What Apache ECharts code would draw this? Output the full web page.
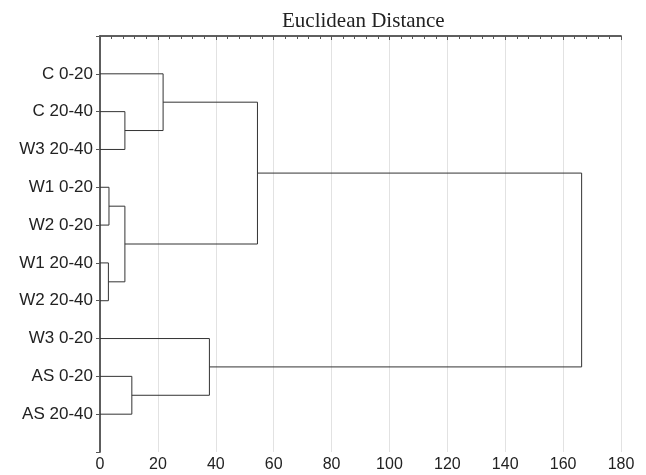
<!DOCTYPE html>
<html>
<head>
    <meta charset="UTF-8">
    <title>Euclidean Distance</title>
    <script type="text/javascript" src="https://cdn.jsdelivr.net/npm/echarts@6/dist/echarts.min.js"></script>
</head>
<body style="margin:0">
    <div id="main" style="width:646px;height:475px;"></div>
    <script type="text/javascript">
        // leaves, top to bottom
        var leaves = ['C 0-20', 'C 20-40', 'W3 20-40', 'W1 0-20', 'W2 0-20',
                      'W1 20-40', 'W2 20-40', 'W3 0-20', 'AS 0-20', 'AS 20-40'];
        // merges: [child a, child b, distance]; new clusters get ids 10, 11, ...
        var merges = [
            [1, 2, 8.6],
            [0, 10, 21.8],
            [3, 4, 3.1],
            [5, 6, 2.9],
            [12, 13, 8.6],
            [11, 14, 54.4],
            [8, 9, 11],
            [7, 16, 37.8],
            [15, 17, 166.4]
        ];
        var xTicks = [0, 20, 40, 60, 80, 100, 120, 140, 160, 180];

        // node position: leaf i sits at y = i + 1, height 0
        var nodeY = leaves.map(function (d, i) { return i + 1; });
        var nodeH = leaves.map(function () { return 0; });
        var links = [];
        merges.forEach(function (m) {
            var a = m[0], b = m[1], h = m[2];
            links.push([nodeH[a], nodeY[a]], [h, nodeY[a]], [h, nodeY[b]], [nodeH[b], nodeY[b]], '-');
            nodeY.push((nodeY[a] + nodeY[b]) / 2);
            nodeH.push(h);
        });

        var axisColor = '#555';
        var myChart = echarts.init(document.getElementById('main'));
        var option = {
            animation: false,
            title: {
                text: 'Euclidean Distance',
                left: 277,
                top: 6,
                textStyle: {fontFamily: 'Liberation Serif', fontSize: 21, fontWeight: 'normal', color: '#222'}
            },
            grid: {left: 100, right: 25, top: 36, bottom: 23},
            xAxis: [{
                type: 'value', position: 'bottom', min: 0, max: 180, interval: 20,
                axisLine: {lineStyle: {color: axisColor, width: 1.5}},
                axisTick: {show: true, length: 3, lineStyle: {color: axisColor}},
                minorTick: {show: true, splitNumber: 5, length: 2, lineStyle: {color: axisColor}},
                axisLabel: {
                    color: '#222', fontSize: 16, fontFamily: 'Liberation Sans', margin: 5,
                    formatter: function (v) { return xTicks.indexOf(v) >= 0 ? String(v) : ''; }
                },
                splitLine: {show: true, lineStyle: {color: '#e2e2e2'}}
            }, {
                type: 'value', position: 'top', min: 0, max: 180, interval: 20,
                axisLine: {lineStyle: {color: axisColor, width: 1.5}},
                axisTick: {show: true, inside: true, length: 4, lineStyle: {color: axisColor}},
                minorTick: {show: true, splitNumber: 5, length: 3, lineStyle: {color: axisColor}},
                axisLabel: {show: false},
                splitLine: {show: false}
            }],
            yAxis: [{
                type: 'value', position: 'left', min: 0, max: 11, interval: 1, inverse: true,
                axisLine: {show: true, lineStyle: {color: axisColor, width: 1.5}},
                axisTick: {show: false},
                axisLabel: {
                    color: '#222', fontSize: 17, fontFamily: 'Liberation Sans', margin: 7,
                    formatter: function (v) { return leaves[v - 1] || ''; }
                },
                splitLine: {show: false}
            }, {
                type: 'value', position: 'right', min: 0, max: 11, interval: 1, inverse: true,
                axisLine: {show: true, lineStyle: {color: axisColor, width: 1.5}},
                axisTick: {show: true, inside: true, length: 4, lineStyle: {color: axisColor}},
                axisLabel: {show: false},
                splitLine: {show: false}
            }],
            series: [{
                type: 'line',
                data: links,
                symbol: 'none',
                connectNulls: false,
                lineStyle: {color: '#333', width: 1},
                silent: true
            }]
        };
        myChart.setOption(option);
    </script>
</body>
</html>
